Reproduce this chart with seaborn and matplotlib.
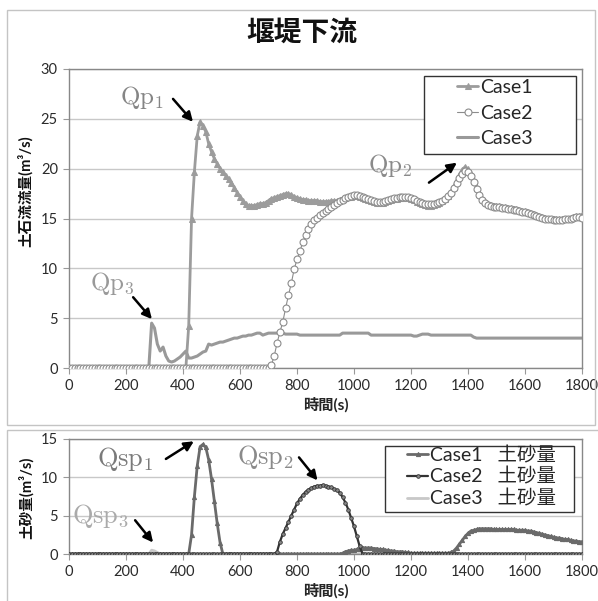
import numpy as np
import pandas as pd
import seaborn as sns
import matplotlib.pyplot as plt
from matplotlib.patches import Rectangle

# time axis (s), one sample every 10 s
time = np.arange(0, 1810, 10)

# debris flow discharge (m3/s)
case1_flow = ([0.0] * 42 +
              [4.2, 15.0, 19.7, 23.3, 24.7, 24.3, 23.7, 22.5, 21.7, 21.0,
               20.5, 20.0, 19.7, 19.3, 19.0, 18.6, 18.1, 17.6, 17.2, 16.8,
               16.5, 16.3, 16.3, 16.3, 16.4, 16.5, 16.5, 16.6, 16.8, 17.0,
               17.1, 17.2, 17.3, 17.4, 17.5, 17.5, 17.4, 17.2, 17.1, 17.0,
               16.9, 16.9, 16.8, 16.8, 16.8, 16.8, 16.7, 16.7, 16.7, 16.7,
               16.8, 16.8, 16.8, 16.9, 17.0, 17.1, 17.2, 17.2, 17.3] +
              [17.3, 17.2, 17.1, 17.0, 16.9, 16.8, 16.7, 16.6, 16.6, 16.6,
               16.7, 16.8, 16.9, 17.0, 17.0, 17.1, 17.1, 17.1, 17.1, 17.0,
               16.9, 16.7, 16.6, 16.5, 16.4, 16.3, 16.3, 16.4, 16.5, 16.6,
               16.8, 17.0, 17.3, 17.7, 18.2, 18.8, 19.4, 19.9, 20.2, 20.0,
               19.5, 18.8, 18.1, 17.5, 17.0, 16.7, 16.5, 16.4, 16.3, 16.3,
               16.3, 16.2, 16.2, 16.1, 16.1, 16.0, 16.0, 15.9, 15.8, 15.8,
               15.7, 15.6, 15.5, 15.4, 15.3, 15.2, 15.1, 15.0, 15.0, 14.9,
               14.9, 14.9, 14.9, 15.0, 15.0, 15.1, 15.2, 15.3, 15.3, 15.4])

case2_flow = ([0.0] * 71 +
              [0.3, 1.2, 2.5, 3.6, 4.6, 6.0, 7.3, 8.5, 9.9, 10.9,
               11.7, 12.6, 13.3, 13.9, 14.4, 14.8, 15.1, 15.4, 15.6, 15.8,
               16.0, 16.2, 16.4, 16.6, 16.8, 16.9, 17.1, 17.2, 17.3, 17.4] +
              [17.4, 17.3, 17.2, 17.1, 17.0, 16.9, 16.8, 16.7, 16.7, 16.7,
               16.8, 16.9, 17.0, 17.1, 17.1, 17.2, 17.2, 17.2, 17.2, 17.1,
               17.0, 16.8, 16.7, 16.6, 16.5, 16.5, 16.5, 16.5, 16.6, 16.7,
               16.8, 17.0, 17.3, 17.6, 18.1, 18.6, 19.1, 19.5, 19.8, 19.7,
               19.3, 18.7, 18.0, 17.4, 16.9, 16.6, 16.4, 16.3, 16.2, 16.2,
               16.2, 16.1, 16.1, 16.0, 16.0, 15.9, 15.9, 15.8, 15.7, 15.7,
               15.6, 15.5, 15.4, 15.3, 15.2, 15.1, 15.0, 14.9, 14.9, 14.8,
               14.8, 14.8, 14.8, 14.9, 14.9, 15.0, 15.1, 15.2, 15.2, 15.1])

case3_flow = ([0.0] * 29 +
              [4.5, 4.0, 2.4, 1.7, 2.1, 1.2, 0.7, 0.6, 0.7, 0.9,
               1.1, 1.4, 1.7, 1.0, 1.0, 1.1, 1.2, 1.4, 1.6, 1.7,
               2.4, 2.3] +
              [2.4, 2.5, 2.6, 2.6, 2.7, 2.8, 2.9, 3.0, 3.0, 3.1,
               3.2, 3.2, 3.3, 3.3, 3.4, 3.5, 3.5, 3.3, 3.4, 3.5] +
              [3.5, 3.5, 3.5, 3.5, 3.5, 3.4, 3.4, 3.4, 3.4, 3.4] +
              [3.3] * 15 + [3.5] * 10 + [3.3] * 15 +
              [3.2, 3.2, 3.3, 3.4, 3.4, 3.4, 3.3] +
              [3.3] * 14 + [3.1] + [3.0] * 38)

# sediment discharge (m3/s)
case1_sed = ([0.0] * 43 +
             [2.5, 7.5, 11.5, 14.0, 14.3, 13.9, 12.3, 9.8, 6.9, 4.0, 1.5, 0.0] +
             [0.0] * 41 +
             [0.1, 0.3, 0.4, 0.5, 0.5, 0.6, 0.7, 0.8, 0.8, 0.8,
              0.8, 0.7, 0.7, 0.6, 0.6, 0.5, 0.5, 0.4, 0.4, 0.3,
              0.3, 0.3, 0.2, 0.2] +
             [0.1] * 14 +
             [0.2, 0.4, 0.8, 1.3, 1.8, 2.3, 2.7, 3.0, 3.1, 3.2,
              3.3, 3.3, 3.3, 3.3, 3.3, 3.2, 3.2, 3.2, 3.2, 3.2,
              3.2, 3.2, 3.2, 3.1, 3.1, 3.1, 3.1, 3.0, 3.0, 2.9,
              2.8, 2.7, 2.6, 2.5, 2.4, 2.3, 2.2, 2.1, 2.1, 2.0,
              1.9, 1.9, 1.8, 1.7, 1.7, 1.6, 1.6])

case2_sed = ([0.0] * 73 +
             [0.3, 1.6, 2.6, 3.4, 4.2, 5.0, 5.8, 6.6, 7.2, 7.7,
              8.1, 8.4, 8.6, 8.8, 8.9, 8.9, 9.0, 8.9, 8.8, 8.7,
              8.5, 8.3, 8.0, 7.4, 6.7, 5.8, 4.7, 3.6, 2.3, 1.0] +
             [0.0] * 78)

case3_sed = [0.0] * 29 + [0.5, 0.4, 0.2] + [0.0] * 149

flow_labels = ['Case1', 'Case2', 'Case3']
sed_labels = ['Case1   土砂量', 'Case2   土砂量', 'Case3   土砂量']
xticks = list(range(0, 1801, 200))

sns.set_theme(style='white')
plt.rcParams['font.family'] = ['Lato', 'Noto Sans CJK JP', 'DejaVu Sans']
plt.rcParams['mathtext.fontset'] = 'cm'

W, H = 598, 601
fig = plt.figure(figsize=(W / 100, H / 100), dpi=100)

# panel frames
fig.add_artist(Rectangle((7 / W, 1 - 425 / H), 588 / W, 415 / H, transform=fig.transFigure,
                         fill=False, ec='#c4c4c4', lw=1))
fig.add_artist(Rectangle((7 / W, -0.01), 600 / W, 1 - 430 / H + 0.01, transform=fig.transFigure,
                         fill=False, ec='#c4c4c4', lw=1))

ax1 = fig.add_axes([69 / W, 1 - 368 / H, 513 / W, 299 / H])
ax2 = fig.add_axes([69 / W, 1 - 554 / H, 513 / W, 115 / H])

# top: debris flow discharge
sns.lineplot(x=time, y=case1_flow, ax=ax1, color='#9c9c9c', lw=2, marker='^',
             markersize=4.5, markeredgecolor='#9c9c9c', markerfacecolor='#9c9c9c',
             label=flow_labels[0], zorder=3)
sns.lineplot(x=time, y=case2_flow, ax=ax1, color='#8c8c8c', lw=0.8, marker='o',
             markersize=5, markeredgecolor='#8c8c8c', markerfacecolor='white',
             markeredgewidth=0.8, label=flow_labels[1], zorder=4)
sns.lineplot(x=time, y=case3_flow, ax=ax1, color='#999999', lw=2.2,
             label=flow_labels[2], zorder=2)

# bottom: sediment discharge
sns.lineplot(x=time, y=case1_sed, ax=ax2, color='#6a6a6a', lw=2, marker='^',
             markersize=3, markeredgecolor='#6a6a6a', markerfacecolor='#6a6a6a',
             label=sed_labels[0], zorder=3)
sns.lineplot(x=time, y=case2_sed, ax=ax2, color='#333333', lw=1.6, marker='o',
             markersize=2.6, markeredgecolor='#333333', markerfacecolor='#888888',
             markeredgewidth=0.6, label=sed_labels[1], zorder=4)
sns.lineplot(x=time, y=case3_sed, ax=ax2, color='#c8c8c8', lw=2,
             label=sed_labels[2], zorder=2)

for ax, ymax in [(ax1, 30), (ax2, 15)]:
    ax.set_xlim(0, 1800)
    ax.set_ylim(0, ymax)
    ax.set_xticks(xticks)
    ax.set_yticks(range(0, ymax + 1, 5))
    ax.grid(axis='y', color='#c8c8c8', lw=1)
    ax.grid(axis='x', visible=False)
    for s in ax.spines.values():
        s.set_visible(True)
        s.set_color('#888888')
        s.set_linewidth(1)
    ax.tick_params(axis='both', length=4, width=0.8, color='#999999',
                   labelsize=10.5, labelcolor='#2a2a2a', pad=4, direction='out',
                   bottom=True, left=True)
    ax.set_xlabel('時間(s)', fontsize=11, fontweight='bold', labelpad=3)
    ax.set_ylabel('')

# y labels placed at their pixel centres
fig.text(25 / W, 1 - 191 / H, '土石流流量(m³/s)', rotation=90, ha='center', va='center',
         fontsize=10.5, fontweight='bold', color='#111111')
fig.text(26 / W, 1 - 498 / H, '土砂量(m³/s)', rotation=90, ha='center', va='center',
         fontsize=10.5, fontweight='bold', color='#111111')

fig.text(302 / W, 1 - 33 / H, '堰堤下流', ha='center', va='center',
         fontsize=20, fontweight='bold', color='#111111')

# legends: entries without frame, box drawn as its own rectangle
leg1 = ax1.legend(loc='upper left', bbox_to_anchor=((457 - 69) / 513, (368 - 79) / 299),
                  frameon=False, fontsize=14, handlelength=1.1, handletextpad=0.1,
                  labelspacing=0.44, borderpad=0, borderaxespad=0)
leg1.set_zorder(6)
ax1.add_patch(Rectangle(((424 - 69) / 513, (368 - 154) / 299), 152 / 513, 78 / 299,
                        transform=ax1.transAxes, fc='white', ec='#333333', lw=1, zorder=5))
leg2 = ax2.legend(loc='upper left', bbox_to_anchor=((407 - 69) / 513, (554 - 446) / 115),
                  frameon=False, fontsize=14, handlelength=1.1, handletextpad=0.1,
                  labelspacing=0.18, borderpad=0, borderaxespad=0)
leg2.set_zorder(6)
ax2.add_patch(Rectangle(((385 - 69) / 513, (554 - 512) / 115), 189 / 513, 66 / 115,
                        transform=ax2.transAxes, fc='white', ec='#333333', lw=1, zorder=5))

# peak annotations
arrow = dict(arrowstyle='-|>', color='black', lw=1.8, mutation_scale=14, shrinkA=0, shrinkB=0)
ax1.text(256, 27.1, r'$\mathrm{Qp}_{1}$', fontsize=18, color='#858585', ha='center', va='center')
ax1.annotate('', xy=(435, 24.7), xytext=(365, 27.0), arrowprops=arrow)
ax1.text(1126, 20.3, r'$\mathrm{Qp}_{2}$', fontsize=18, color='#8a8a8a', ha='center', va='center')
ax1.annotate('', xy=(1361, 20.6), xytext=(1263, 18.6), arrowprops=arrow)
ax1.text(151, 8.5, r'$\mathrm{Qp}_{3}$', fontsize=18, color='#999999', ha='center', va='center')
ax1.annotate('', xy=(291, 4.9), xytext=(225, 7.1), arrowprops=arrow)

ax2.text(196, 12.4, r'$\mathrm{Qsp}_{1}$', fontsize=19, color='#7a7a7a', ha='center', va='center')
ax2.annotate('', xy=(438, 14.7), xytext=(340, 12.4), arrowprops=arrow)
ax2.text(691, 12.6, r'$\mathrm{Qsp}_{2}$', fontsize=19, color='#8a8a8a', ha='center', va='center')
ax2.annotate('', xy=(872, 9.6), xytext=(807, 12.6), arrowprops=arrow)
ax2.text(109, 4.9, r'$\mathrm{Qsp}_{3}$', fontsize=19, color='#aaaaaa', ha='center', va='center')
ax2.annotate('', xy=(295, 1.5), xytext=(232, 4.4), arrowprops=arrow)

fig.savefig('out.png', dpi=100, facecolor='white')
